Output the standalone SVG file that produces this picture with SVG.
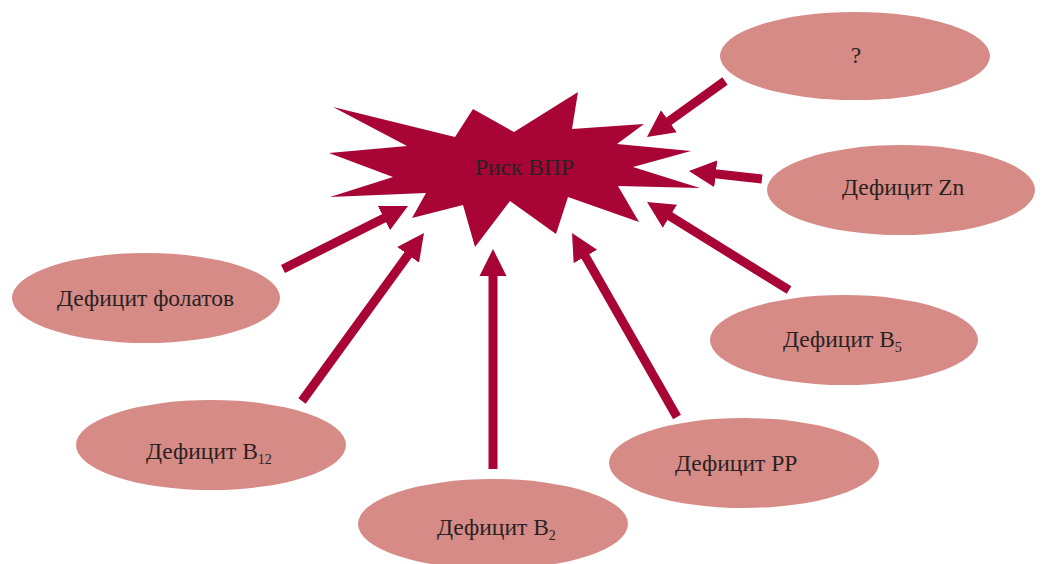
<svg xmlns="http://www.w3.org/2000/svg" width="1042" height="564" viewBox="0 0 1042 564">
<style>
.node ellipse{fill:#d68b87}
.lbl{font-family:"Liberation Serif","DejaVu Serif",serif;font-size:23.5px;fill:#2a2222}
.sub{font-size:14px}
.conn line{stroke:#a80536;stroke-width:9;marker-end:url(#ah)}
</style>
<defs>
<marker id="ah" markerUnits="userSpaceOnUse" markerWidth="28" markerHeight="28" refX="1" refY="13.5" orient="auto" viewBox="0 0 28 27">
<path d="M0,0 L27,13.5 L0,27 z" fill="#a80536"/>
</marker>
</defs>
<rect width="1042" height="564" fill="#ffffff"/>
<g id="risk">
<polygon fill="#a80536" points="333,107 455,137 473,109 514,132 578,92 572,129 644,124 617,144 691,151 633,167 700,188 618,186 639,222 568,197 556,234 510,201 475,247 463,205 412,218 426,193 330,197 393,177 329,153 407,146"/>
<text class="lbl" x="475" y="175">Риск ВПР</text>
</g>
<g class="conn" id="connectors">
<line x1="725" y1="81" x2="668.1" y2="121.8"/>
<line x1="762" y1="179" x2="714.8" y2="173.8"/>
<line x1="789" y1="290" x2="669.1" y2="215.7"/>
<line x1="677" y1="417" x2="584.9" y2="255.6"/>
<line x1="493" y1="469" x2="493" y2="275"/>
<line x1="302" y1="401" x2="408.7" y2="254"/>
<line x1="283" y1="269" x2="384.8" y2="217.7"/>
</g>
<g class="node" id="n-q">
<ellipse cx="855" cy="56" rx="135" ry="44"/>
<text class="lbl" x="856" y="63" text-anchor="middle">?</text>
</g>
<g class="node" id="n-zn">
<ellipse cx="901" cy="190" rx="134" ry="45"/>
<text class="lbl" x="842" y="195">Дефицит Zn</text>
</g>
<g class="node" id="n-b5">
<ellipse cx="844" cy="340" rx="134" ry="45"/>
<text class="lbl" x="783" y="347">Дефицит B<tspan class="sub" dy="5">5</tspan></text>
</g>
<g class="node" id="n-pp">
<ellipse cx="744" cy="463" rx="135" ry="45"/>
<text class="lbl" x="675" y="471">Дефицит PP</text>
</g>
<g class="node" id="n-b2">
<ellipse cx="493" cy="524" rx="135" ry="45"/>
<text class="lbl" x="437" y="535">Дефицит B<tspan class="sub" dy="5">2</tspan></text>
</g>
<g class="node" id="n-b12">
<ellipse cx="211" cy="445" rx="135" ry="45"/>
<text class="lbl" x="146" y="459">Дефицит B<tspan class="sub" dy="5">12</tspan></text>
</g>
<g class="node" id="n-fol">
<ellipse cx="146" cy="298" rx="134" ry="45"/>
<text class="lbl" x="57" y="306">Дефицит фолатов</text>
</g>
</svg>
